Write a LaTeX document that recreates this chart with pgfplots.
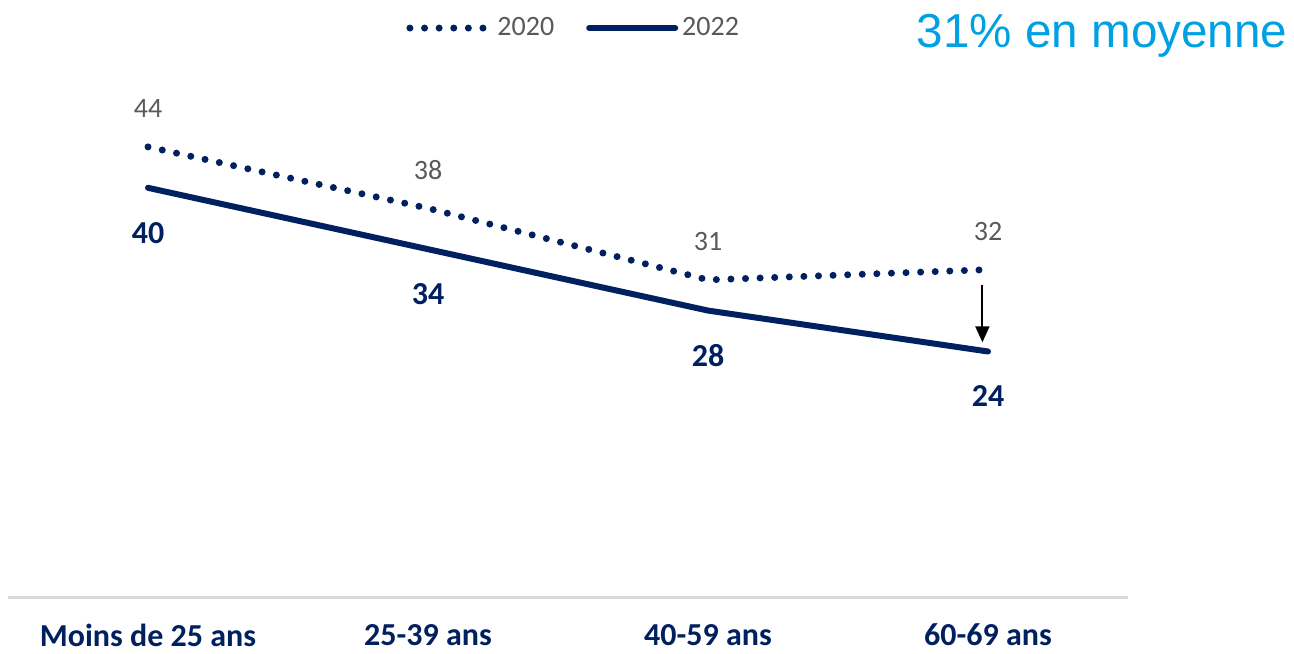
\documentclass[border=0pt]{standalone}
\usepackage{fontspec}
\setmainfont{Carlito}
\newfontfamily\arialfont{Liberation Sans}
\usepackage{pgfplots}
\pgfplotsset{compat=1.18}
\usetikzlibrary{arrows.meta}

\definecolor{navy}{HTML}{002060}
\definecolor{txtgray}{HTML}{595959}
\definecolor{skyblue}{HTML}{00A0E3}
\definecolor{axgray}{HTML}{D9D9D9}

\pgfplotsset{
  dotleg/.style={legend image code/.code={\draw[##1] (0pt,0pt) -- (40pt,0pt);}},
  lineleg/.style={legend image code/.code={\draw[##1] (0pt,0pt) -- (43pt,0pt);}},
}

\begin{document}
\begin{tikzpicture}
% page = 1294 x 653 px, 1px = 0.5pt, axis origin at pixel (8,597)
\path[use as bounding box] (-4pt,-28pt) rectangle (643pt,298.5pt);
\begin{axis}[
  at={(0pt,0pt)}, anchor=south west,
  scale only axis,
  width=560pt, height=298.5pt,
  xmin=-0.5, xmax=3.5, ymin=0, ymax=58.36,
  enlargelimits=false,
  clip=false,
  axis y line=none,
  axis x line*=bottom,
  x axis line style={-, draw=axgray, line width=1.5pt},
  xtick={0,1,2,3},
  xticklabels={Moins de 25 ans,25-39 ans,40-59 ans,60-69 ans},
  major tick length=0pt,
  xticklabel style={font=\fontsize{16}{18}\selectfont\bfseries, text=navy, anchor=center, yshift=-19pt, inner sep=1pt},
  legend columns=2,
  legend style={at={(0.506,0.953)}, anchor=center, draw=none, fill=none,
    font=\fontsize{14}{16}\selectfont, text=txtgray,
    /tikz/every even column/.append style={column sep=14pt}},
  legend cell align=left,
]
\addplot[navy, line width=3.5pt, line cap=round, dash pattern=on 0pt off 7.3pt,
  dotleg,
  nodes near coords, point meta=explicit symbolic,
  every node near coord/.append style={anchor=center, yshift=19pt, text=txtgray,
    font=\fontsize{14}{16}\selectfont, solid}]
  coordinates {(0,44)[44] (1,38)[38] (2,31)[31] (3,32)[32]};
\addlegendentry{2020}
\addplot[navy, line width=3pt, line cap=round,
  lineleg,
  nodes near coords, point meta=explicit symbolic,
  every node near coord/.append style={anchor=center, yshift=-22.5pt, text=navy,
    font=\fontsize{16}{18}\selectfont\bfseries}]
  coordinates {(0,40)[40] (1,34)[34] (2,28)[28] (3,24)[24]};
\addlegendentry{2022}
\draw[-{Triangle[length=8pt,width=7pt]}, line width=1pt, black]
  (axis cs:2.98,30.5) -- (axis cs:2.98,24.9);
\end{axis}
\node[anchor=center, text=skyblue, font=\arialfont\fontsize{23.8}{26}\selectfont]
  at (547pt,280.5pt) {31\% en moyenne};
\end{tikzpicture}
\end{document}
